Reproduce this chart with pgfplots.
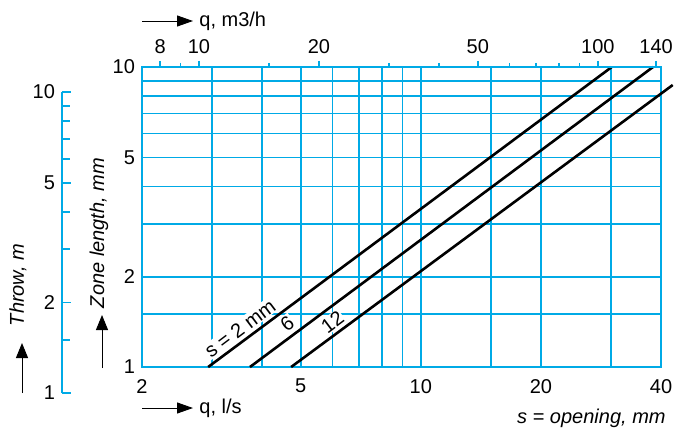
\documentclass[border=0pt]{standalone}
\usepackage{fontspec}
\setmainfont{Liberation Sans}
\usepackage{pgfplots}
\pgfplotsset{compat=1.18}
\usetikzlibrary{arrows.meta}
\definecolor{gridblue}{RGB}{0,170,230}

\begin{document}
\fontsize{10}{11}\selectfont
\begin{tikzpicture}
\useasboundingbox (0,0) rectangle (337.5pt,-214pt);
\pgfplotsset{every axis/.append style={scale only axis,
    font=\fontsize{10}{11}\selectfont,
    /pgf/number format/assume math mode=true}}

% main chart: zone length vs. flow in l/s
\begin{axis}[
  at={(71pt,-183.5pt)}, anchor=south west,
  width=259.5pt, height=150pt,
  xmode=log, ymode=log,
  xmin=2, xmax=40, ymin=1, ymax=10,
  xtick={2,5,10,20,40}, xticklabels={2,5,10,20,40},
  minor xtick={3,4,6,7,8,9,15,30},
  ytick={1,2,5,10}, yticklabels={1,2,5,10},
  minor ytick={1.5,3,4,6,7,8,9},
  grid=both,
  major grid style={gridblue, line width=0.8pt},
  minor grid style={gridblue, line width=0.8pt},
  axis line style={gridblue, line width=0.9pt},
  major tick length=0pt, minor tick length=0pt,
  xticklabel style={yshift=-2.5pt},
  clip=false,
]
\addplot[black, line width=1.3pt] coordinates {(2.93,1) (30.1,10)};
\addplot[black, line width=1.3pt] coordinates {(3.73,1) (38.2,10)};
\addplot[black, line width=1.3pt] coordinates {(4.73,1) (42.8,8.71)};
\node[rotate=37, fill=white, inner sep=0.5pt] at (axis cs:3.52,1.345) {s = 2 mm};
\node[rotate=37, fill=white, inner sep=0.5pt] at (axis cs:4.62,1.40) {6};
\node[rotate=37, fill=white, inner sep=0.5pt] at (axis cs:6.0,1.41) {12};
\end{axis}

% top scale: flow in m3/h
\begin{axis}[
  at={(71pt,-183.5pt)}, anchor=south west,
  width=259.5pt, height=150pt,
  xmode=log, xmin=7.2, xmax=144, ymin=0, ymax=1,
  axis x line*=top, axis y line=none,
  xtick={8,10,20,50,100,140}, xticklabels={8,10,20,50,100,140},
  minor xtick={9,15,30,40,60,70,80,90},
  tick align=outside, major tick length=3pt, minor tick length=2pt,
  tick style={gridblue, line width=0.8pt},
  axis line style={gridblue, line width=0.9pt},
]
\end{axis}

% throw scale
\begin{axis}[
  at={(31pt,-196.5pt)}, anchor=south west,
  width=5pt, height=150.5pt,
  ymode=log, ymin=1, ymax=10, xmin=0, xmax=1,
  axis y line*=left, axis x line=none,
  ytick={1,2,5,10}, yticklabels={1,2,5,10},
  minor ytick={1.5,3,4,6,7,8,9},
  tick align=inside, major tick length=4.5pt, minor tick length=4pt,
  tick style={gridblue, line width=0.9pt},
  axis line style={gridblue, line width=1pt},
]
\end{axis}

% arrows and captions
\draw[line width=0.5pt, -{Triangle[length=8pt,width=5.5pt]}] (71pt,-10.5pt) -- (96.5pt,-10.5pt);
\node[anchor=west, inner sep=0pt] at (99.5pt,-10.5pt) {q, m3/h};
\draw[line width=0.5pt, -{Triangle[length=8pt,width=5.5pt]}] (71pt,-204pt) -- (96.5pt,-204pt);
\node[anchor=west, inner sep=0pt] at (99.5pt,-204pt) {q, l/s};
\draw[line width=0.5pt, -{Triangle[length=7.5pt,width=6pt]}] (11pt,-196.5pt) -- (11pt,-171.5pt);
\draw[line width=0.5pt, -{Triangle[length=7.5pt,width=6pt]}] (51pt,-184pt) -- (51pt,-157.5pt);
\node[rotate=90, font=\itshape] at (9pt,-142.5pt) {Throw, m};
\node[rotate=90, font=\itshape] at (49.5pt,-116.5pt) {Zone length, mm};
\node[anchor=east, font=\itshape, inner sep=0pt] at (333pt,-209pt) {s = opening, mm};
\end{tikzpicture}
\end{document}
